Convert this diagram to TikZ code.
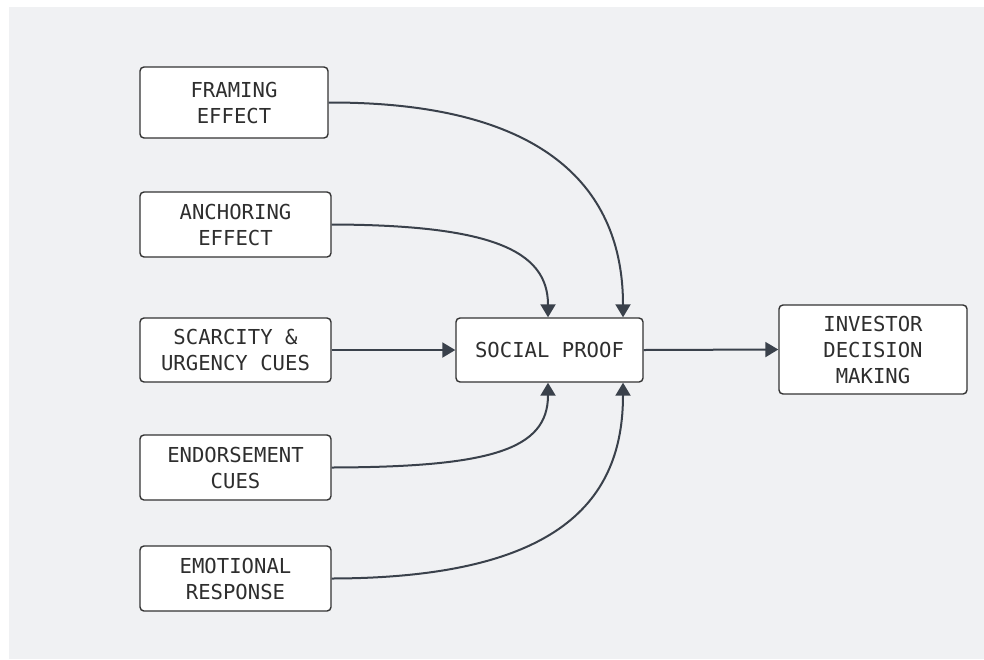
\documentclass[tikz,border=0pt]{standalone}
\usepackage{fontspec}
\setmonofont{DejaVu Sans Mono}
\usetikzlibrary{arrows.meta}
\definecolor{canvas}{HTML}{F0F1F3}
\definecolor{edge}{HTML}{3A414B}
\definecolor{boxline}{HTML}{333333}
\definecolor{ink}{HTML}{2E2E2E}
\tikzset{
  factor/.style={draw=boxline, line width=1.4pt, fill=white, rounded corners=4pt,
    align=center, inner sep=0pt, text=ink,
    font=\ttfamily\fontsize{20.6}{26}\selectfont},
  link/.style={draw=edge, line width=2pt,
    -{Triangle[width=15pt,length=13pt]}}
}
\begin{document}
\begin{tikzpicture}[x=1pt,y=-1pt]
\useasboundingbox (0,0) rectangle (984,659);
\fill[canvas] (9,7) rectangle (984,659);

\node[factor, minimum width=188pt, minimum height=71pt] (framing) at (234,102.5) {FRAMING\\EFFECT};
\node[factor, minimum width=191pt, minimum height=65pt] (anchoring) at (235.5,224.5) {ANCHORING\\EFFECT};
\node[factor, minimum width=191pt, minimum height=64pt] (scarcity) at (235.5,350) {SCARCITY \&\\URGENCY CUES};
\node[factor, minimum width=191pt, minimum height=65pt] (endorse) at (235.5,467.5) {ENDORSEMENT\\CUES};
\node[factor, minimum width=191pt, minimum height=65pt] (emotion) at (235.5,578.5) {EMOTIONAL\\RESPONSE};
\node[factor, minimum width=187pt, minimum height=64pt] (social) at (549.5,350) {SOCIAL PROOF};
\node[factor, minimum width=188pt, minimum height=89pt] (investor) at (873,349.5) {INVESTOR\\DECISION\\MAKING};

\coordinate (sTopA) at ([xshift=-1.5pt]social.north);
\coordinate (sTopB) at ([xshift=73.5pt]social.north);
\coordinate (sBotA) at ([xshift=-1.5pt]social.south);
\coordinate (sBotB) at ([xshift=73.5pt]social.south);

\draw[link] (framing.east) .. controls (560,102) and (623,200) .. (sTopB);
\draw[link] (anchoring.east) .. controls (490,225) and (548,250) .. (sTopA);
\draw[link] (scarcity.east) -- (social.west);
\draw[link] (endorse.east) .. controls (490,467) and (548,450) .. (sBotA);
\draw[link] (emotion.east) .. controls (560,578) and (623,500) .. (sBotB);
\draw[link] (social.east) -- (investor.west);
\end{tikzpicture}
\end{document}
